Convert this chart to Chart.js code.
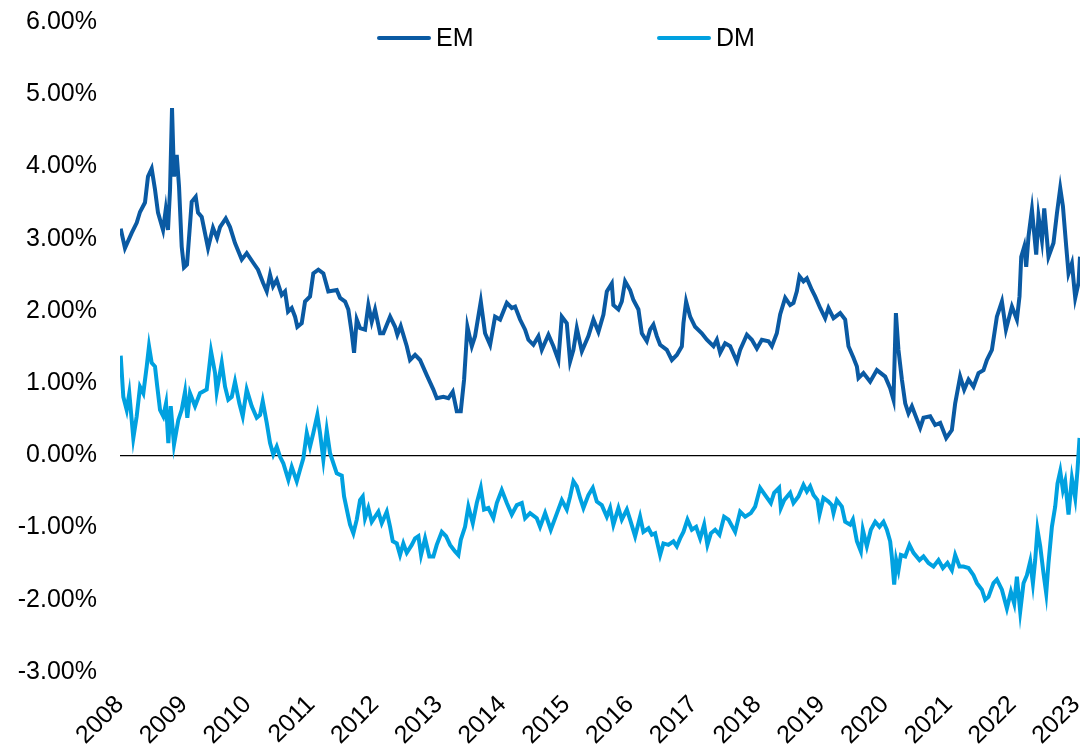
<!DOCTYPE html>
<html>
<head>
<meta charset="utf-8">
<script src="https://cdn.jsdelivr.net/npm/chart.js@4.4.1/dist/chart.umd.min.js"></script>
<style>
  html, body { margin: 0; padding: 0; background: #fff; }
  #wrap { width: 1080px; height: 749px; position: relative; }
</style>
</head>
<body>
<div id="wrap"><canvas id="myChart"></canvas></div>
<script>
// datos (fecha en años fraccionarios, valor en %)
var emYears = [
  2008.011, 2008.078, 2008.184, 2008.262, 2008.314, 2008.392, 2008.439, 2008.497, 2008.549, 2008.596,
  2008.675, 2008.717, 2008.753, 2008.785, 2008.816, 2008.847, 2008.890, 2008.926, 2008.968, 2009.004,
  2009.051, 2009.125, 2009.188, 2009.224, 2009.282, 2009.381, 2009.459, 2009.522, 2009.569, 2009.659,
  2009.726, 2009.804, 2009.910, 2009.988, 2010.087, 2010.165, 2010.244, 2010.302, 2010.354, 2010.401,
  2010.459, 2010.537, 2010.589, 2010.636, 2010.694, 2010.746, 2010.782, 2010.851, 2010.903, 2010.981,
  2011.033, 2011.112, 2011.190, 2011.268, 2011.400, 2011.452, 2011.531, 2011.582, 2011.636, 2011.672,
  2011.714, 2011.766, 2011.844, 2011.896, 2011.949, 2012.001, 2012.080, 2012.131, 2012.237, 2012.315,
  2012.351, 2012.404, 2012.499, 2012.550, 2012.629, 2012.707, 2012.812, 2012.916, 2012.969, 2013.073,
  2013.151, 2013.220, 2013.283, 2013.346, 2013.398, 2013.450, 2013.519, 2013.570, 2013.660, 2013.727,
  2013.806, 2013.884, 2013.963, 2014.068, 2014.146, 2014.198, 2014.276, 2014.355, 2014.407, 2014.485,
  2014.564, 2014.617, 2014.721, 2014.799, 2014.877, 2014.931, 2015.009, 2015.061, 2015.113, 2015.166,
  2015.245, 2015.348, 2015.427, 2015.505, 2015.584, 2015.637, 2015.715, 2015.740, 2015.819, 2015.872,
  2015.924, 2016.002, 2016.054, 2016.133, 2016.186, 2016.264, 2016.316, 2016.368, 2016.421, 2016.473,
  2016.578, 2016.657, 2016.735, 2016.814, 2016.839, 2016.881, 2016.944, 2017.022, 2017.127, 2017.206,
  2017.310, 2017.363, 2017.415, 2017.493, 2017.572, 2017.677, 2017.728, 2017.834, 2017.912, 2017.991,
  2018.069, 2018.173, 2018.226, 2018.304, 2018.356, 2018.435, 2018.513, 2018.565, 2018.618, 2018.659,
  2018.722, 2018.775, 2018.854, 2018.905, 2018.984, 2019.062, 2019.114, 2019.193, 2019.298, 2019.376,
  2019.428, 2019.506, 2019.560, 2019.585, 2019.663, 2019.768, 2019.873, 2020.004, 2020.082, 2020.134,
  2020.172, 2020.212, 2020.266, 2020.318, 2020.369, 2020.423, 2020.553, 2020.605, 2020.710, 2020.788,
  2020.867, 2020.961, 2021.050, 2021.102, 2021.180, 2021.243, 2021.311, 2021.389, 2021.468, 2021.546,
  2021.599, 2021.678, 2021.756, 2021.835, 2021.898, 2021.992, 2022.070, 2022.111, 2022.138, 2022.185,
  2022.216, 2022.252, 2022.306, 2022.373, 2022.409, 2022.463, 2022.499, 2022.566, 2022.644, 2022.698,
  2022.750, 2022.792, 2022.844, 2022.880, 2022.933, 2022.985, 2023.037, 2023.060
];
var emValues = [
  3.14, 2.87, 3.08, 3.22, 3.37, 3.50, 3.86, 3.97, 3.68, 3.36,
  3.12, 3.40, 3.12, 3.68, 4.81, 3.86, 4.16, 3.72, 2.89, 2.60,
  2.64, 3.51, 3.58, 3.36, 3.30, 2.87, 3.15, 3.01, 3.16, 3.28,
  3.16, 2.94, 2.71, 2.80, 2.67, 2.57, 2.39, 2.27, 2.50, 2.34,
  2.43, 2.22, 2.27, 1.99, 2.04, 1.92, 1.78, 1.83, 2.13, 2.20,
  2.52, 2.57, 2.52, 2.27, 2.29, 2.18, 2.13, 2.02, 1.69, 1.42,
  1.88, 1.76, 1.74, 2.08, 1.85, 2.02, 1.69, 1.69, 1.92, 1.78,
  1.67, 1.79, 1.51, 1.32, 1.39, 1.32, 1.11, 0.91, 0.79, 0.81,
  0.79, 0.88, 0.61, 0.61, 1.05, 1.78, 1.51, 1.65, 2.13, 1.69,
  1.53, 1.92, 1.88, 2.11, 2.04, 2.06, 1.88, 1.74, 1.60, 1.53,
  1.65, 1.46, 1.67, 1.51, 1.32, 1.92, 1.83, 1.30, 1.46, 1.76,
  1.44, 1.65, 1.88, 1.71, 1.95, 2.27, 2.38, 2.08, 2.02, 2.13,
  2.41, 2.29, 2.15, 2.02, 1.69, 1.58, 1.74, 1.81, 1.65, 1.53,
  1.46, 1.32, 1.39, 1.51, 1.83, 2.13, 1.92, 1.78, 1.69, 1.60,
  1.51, 1.60, 1.42, 1.55, 1.51, 1.30, 1.46, 1.67, 1.60, 1.48,
  1.60, 1.58, 1.51, 1.69, 1.95, 2.18, 2.08, 2.11, 2.27, 2.48,
  2.41, 2.45, 2.29, 2.20, 2.04, 1.90, 2.04, 1.90, 1.97, 1.88,
  1.51, 1.35, 1.23, 1.07, 1.14, 1.02, 1.18, 1.09, 0.93, 0.77,
  1.97, 1.46, 1.05, 0.72, 0.58, 0.68, 0.38, 0.52, 0.54, 0.42,
  0.45, 0.24, 0.35, 0.72, 1.09, 0.91, 1.05, 0.95, 1.14, 1.18,
  1.32, 1.46, 1.92, 2.13, 1.74, 2.06, 1.88, 2.20, 2.75, 2.89,
  2.61, 3.03, 3.40, 2.78, 3.31, 2.98, 3.42, 2.75, 2.94, 3.35,
  3.70, 3.45, 2.89, 2.52, 2.66, 2.18, 2.39, 2.75
];

var dmYears = [
  2008.011, 2008.052, 2008.105, 2008.146, 2008.209, 2008.262, 2008.314, 2008.366, 2008.419, 2008.455,
  2008.497, 2008.549, 2008.585, 2008.628, 2008.679, 2008.722, 2008.758, 2008.796, 2008.847, 2008.915,
  2008.968, 2009.020, 2009.056, 2009.098, 2009.177, 2009.255, 2009.360, 2009.428, 2009.491, 2009.517,
  2009.596, 2009.648, 2009.699, 2009.753, 2009.804, 2009.872, 2009.925, 2009.988, 2010.067, 2010.145,
  2010.197, 2010.239, 2010.302, 2010.354, 2010.405, 2010.459, 2010.511, 2010.562, 2010.641, 2010.694,
  2010.773, 2010.824, 2010.876, 2010.930, 2010.981, 2011.033, 2011.096, 2011.138, 2011.190, 2011.243,
  2011.295, 2011.400, 2011.479, 2011.515, 2011.582, 2011.609, 2011.661, 2011.714, 2011.766, 2011.808,
  2011.844, 2011.896, 2011.949, 2012.053, 2012.106, 2012.185, 2012.237, 2012.279, 2012.342, 2012.393,
  2012.445, 2012.499, 2012.577, 2012.629, 2012.681, 2012.723, 2012.786, 2012.853, 2012.916, 2012.969,
  2013.048, 2013.115, 2013.178, 2013.256, 2013.308, 2013.346, 2013.413, 2013.465, 2013.534, 2013.597,
  2013.660, 2013.711, 2013.779, 2013.857, 2013.911, 2013.989, 2014.068, 2014.146, 2014.225, 2014.303,
  2014.355, 2014.433, 2014.538, 2014.590, 2014.669, 2014.758, 2014.826, 2014.931, 2015.009, 2015.061,
  2015.113, 2015.166, 2015.218, 2015.270, 2015.348, 2015.417, 2015.480, 2015.558, 2015.637, 2015.689,
  2015.740, 2015.819, 2015.872, 2015.951, 2016.002, 2016.081, 2016.159, 2016.211, 2016.290, 2016.343,
  2016.395, 2016.473, 2016.525, 2016.603, 2016.682, 2016.735, 2016.787, 2016.839, 2016.902, 2016.971,
  2017.038, 2017.101, 2017.164, 2017.215, 2017.269, 2017.336, 2017.404, 2017.477, 2017.545, 2017.650,
  2017.728, 2017.807, 2017.896, 2017.964, 2018.042, 2018.121, 2018.210, 2018.262, 2018.340, 2018.367,
  2018.419, 2018.513, 2018.565, 2018.643, 2018.722, 2018.775, 2018.827, 2018.879, 2018.941, 2018.973,
  2019.035, 2019.114, 2019.167, 2019.193, 2019.246, 2019.324, 2019.376, 2019.455, 2019.497, 2019.560,
  2019.622, 2019.653, 2019.716, 2019.779, 2019.847, 2019.914, 2019.977, 2020.030, 2020.082, 2020.108,
  2020.145, 2020.176, 2020.212, 2020.250, 2020.318, 2020.385, 2020.448, 2020.542, 2020.605, 2020.683,
  2020.762, 2020.840, 2020.909, 2020.981, 2021.050, 2021.102, 2021.170, 2021.232, 2021.311, 2021.389,
  2021.443, 2021.521, 2021.573, 2021.624, 2021.703, 2021.756, 2021.835, 2021.913, 2021.976, 2022.028,
  2022.070, 2022.122, 2022.174, 2022.227, 2022.279, 2022.321, 2022.357, 2022.393, 2022.436, 2022.487,
  2022.530, 2022.566, 2022.619, 2022.671, 2022.707, 2022.750, 2022.792, 2022.828, 2022.880, 2022.933,
  2022.985, 2023.021, 2023.053
];
var dmValues = [
  1.38, 0.81, 0.63, 0.86, 0.24, 0.54, 0.95, 0.86, 1.23, 1.51,
  1.28, 1.23, 0.95, 0.63, 0.54, 0.72, 0.17, 0.68, 0.15, 0.49,
  0.63, 0.88, 0.52, 0.86, 0.68, 0.86, 0.91, 1.44, 1.14, 0.88,
  1.28, 0.95, 0.77, 0.81, 1.02, 0.72, 0.54, 0.91, 0.68, 0.52,
  0.56, 0.75, 0.45, 0.17, 0.01, 0.12, -0.02, -0.11, -0.34, -0.16,
  -0.36, -0.20, -0.04, 0.31, 0.12, 0.31, 0.56, 0.31, -0.06, 0.35,
  0.03, -0.25, -0.28, -0.57, -0.85, -0.96, -1.08, -0.89, -0.62, -0.57,
  -0.87, -0.73, -0.92, -0.78, -0.94, -0.78, -0.99, -1.19, -1.22, -1.38,
  -1.22, -1.35, -1.24, -1.15, -1.12, -1.38, -1.15, -1.40, -1.40, -1.24,
  -1.06, -1.12, -1.24, -1.33, -1.38, -1.17, -0.99, -0.71, -0.94, -0.66,
  -0.45, -0.75, -0.73, -0.87, -0.66, -0.48, -0.66, -0.82, -0.69, -0.66,
  -0.87, -0.80, -0.87, -0.99, -0.80, -1.03, -0.87, -0.62, -0.75, -0.57,
  -0.36, -0.43, -0.59, -0.73, -0.55, -0.45, -0.64, -0.69, -0.85, -0.73,
  -0.96, -0.73, -0.89, -0.75, -0.89, -1.12, -0.85, -1.06, -1.01, -1.10,
  -1.08, -1.38, -1.22, -1.24, -1.19, -1.26, -1.15, -1.06, -0.89, -1.03,
  -0.99, -1.15, -0.96, -1.24, -1.08, -1.03, -1.10, -0.85, -0.89, -1.06,
  -0.78, -0.85, -0.80, -0.71, -0.45, -0.55, -0.66, -0.52, -0.45, -0.73,
  -0.62, -0.52, -0.66, -0.57, -0.41, -0.50, -0.43, -0.55, -0.62, -0.82,
  -0.59, -0.64, -0.69, -0.80, -0.62, -0.71, -0.92, -0.96, -0.89, -1.19,
  -1.33, -1.03, -1.26, -1.03, -0.92, -0.99, -0.92, -1.03, -1.19, -1.40,
  -1.79, -1.45, -1.59, -1.38, -1.40, -1.24, -1.35, -1.45, -1.40, -1.49,
  -1.54, -1.45, -1.56, -1.49, -1.59, -1.38, -1.54, -1.54, -1.56, -1.66,
  -1.77, -1.86, -2.00, -1.96, -1.77, -1.72, -1.86, -2.12, -1.89, -2.05,
  -1.68, -2.16, -1.77, -1.66, -1.47, -1.77, -1.45, -1.03, -1.26, -1.63,
  -1.91, -1.49, -0.99, -0.71, -0.39, -0.22, -0.48, -0.36, -0.82, -0.32,
  -0.59, -0.20, 0.24
];

var seriesNames = ['EM', 'DM'];
var seriesColors = ['#0a5aa3', '#00a1e0'];
var yearTicks = [2008, 2023];
var yTicks = [-3, 6];

var fuente = '"Liberation Sans", Arial, sans-serif';

function toPoints(xs, ys) {
  return xs.map(function (x, i) { return { x: x, y: ys[i] }; });
}

// leyenda dibujada a mano arriba del grafico
var leyendaPlugin = {
  id: 'leyendaArriba',
  afterDraw: function (chart) {
    var c = chart.ctx;
    var posiciones = [377, 657];
    c.save();
    c.font = '25px ' + fuente;
    c.textBaseline = 'middle';
    c.lineCap = 'round';
    seriesNames.forEach(function (nombre, i) {
      var x0 = posiciones[i];
      c.strokeStyle = seriesColors[i];
      c.lineWidth = 4;
      c.beginPath();
      c.moveTo(x0 + 2, 38);
      c.lineTo(x0 + 52, 38);
      c.stroke();
      c.fillStyle = '#000';
      c.fillText(nombre, x0 + 59, 39);
    });
    c.restore();
  }
};

var ctx = document.getElementById('myChart').getContext('2d');
var myChart = new Chart(ctx, {
  type: 'line',
  data: {
    datasets: [
      {
        label: seriesNames[0],
        data: toPoints(emYears, emValues),
        borderColor: seriesColors[0],
        borderWidth: 4,
        pointRadius: 0,
        tension: 0
      },
      {
        label: seriesNames[1],
        data: toPoints(dmYears, dmValues),
        borderColor: seriesColors[1],
        borderWidth: 4,
        pointRadius: 0,
        tension: 0
      }
    ]
  },
  options: {
    responsive: true,
    maintainAspectRatio: false,
    animation: false,
    layout: { padding: { top: 22, right: 0, left: 0, bottom: 0 } },
    plugins: {
      legend: { display: false },
      tooltip: { enabled: false }
    },
    scales: {
      x: {
        type: 'linear',
        min: yearTicks[0],
        max: 2023.06,
        grid: { display: false },
        border: { display: false },
        afterFit: function (scale) {
          scale.height = 77;
          scale.paddingLeft = 0;
          scale.paddingRight = 0;
        },
        ticks: {
          stepSize: 1,
          includeBounds: false,
          autoSkip: false,
          minRotation: 45,
          maxRotation: 45,
          padding: 10,
          color: '#000',
          font: { size: 25, family: fuente },
          callback: function (v) { return Number.isInteger(v) ? String(v) : ''; }
        }
      },
      y: {
        min: yTicks[0],
        max: yTicks[1],
        border: { display: false },
        afterFit: function (scale) {
          scale.width = 120;
          scale.paddingTop = 0;
          scale.paddingBottom = 0;
        },
        grid: {
          drawTicks: false,
          color: function (c) { return c.tick && c.tick.value === 0 ? '#000' : 'rgba(0,0,0,0)'; },
          lineWidth: 1.3
        },
        ticks: {
          stepSize: 1,
          padding: 23,
          color: '#000',
          font: { size: 25, family: fuente },
          callback: function (v) { return v.toFixed(2) + '%'; }
        }
      }
    }
  },
  plugins: [leyendaPlugin]
});
</script>
</body>
</html>
